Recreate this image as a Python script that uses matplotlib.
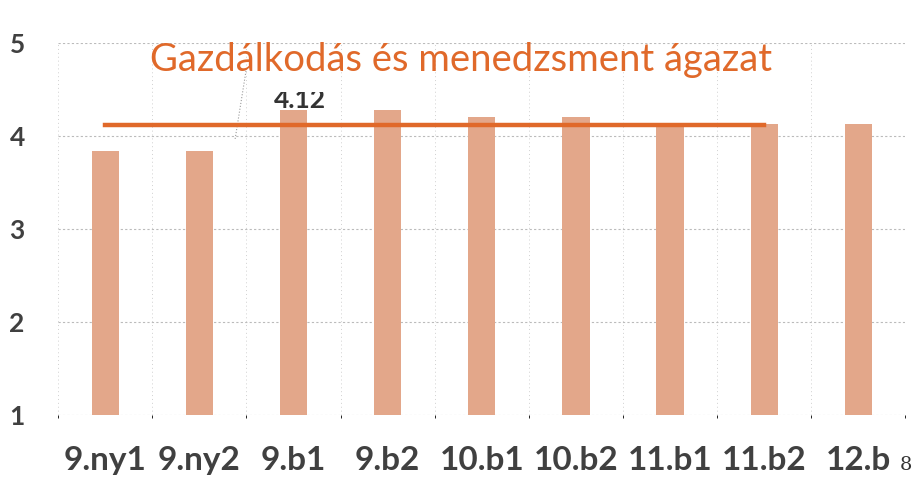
import matplotlib.pyplot as plt
from matplotlib.transforms import Bbox, TransformedBbox
import numpy as np

# osztályok és átlagok
classes = ["9.ny1", "9.ny2", "9.b1", "9.b2", "10.b1", "10.b2", "11.b1", "11.b2", "12.b"]
values = [3.84, 3.84, 4.28, 4.28, 4.21, 4.21, 4.13, 4.13, 4.13]
avg_value = 4.12
avg_label = "4.12"
title = "Gazdálkodás és menedzsment ágazat"

plt.rcParams['font.family'] = ['Lato', 'DejaVu Sans']

fig = plt.figure(figsize=(9.23, 4.9), dpi=100)
ax = fig.add_axes([0.063, 0.153, 0.918, 0.759])

x = np.arange(len(classes))
ax.bar(x, [v - 1 for v in values], bottom=1, width=0.29, color="#E3A78A", zorder=2)

# átlag vonal
ax.plot([x[0], x[7]], [avg_value, avg_value], color="#E0692A", lw=3.2, zorder=3)
t = ax.text(2.07, 4.30, avg_label, fontsize=19, fontweight="bold", color="#333333",
            ha="center", va="baseline", zorder=4)
# a címke teteje le van vágva, mint az eredetin
t.set_clip_box(TransformedBbox(Bbox([[1.5, 3.0], [2.7, 4.47]]), ax.transData))
t.set_clip_on(True)
ax.plot([1.38, 1.5], [3.97, 4.73], color="#9a9a9a", lw=0.8, ls=":", zorder=1)

ax.set_xlim(-0.5, 8.5)
ax.set_ylim(1, 5)
ax.set_yticks([1, 2, 3, 4, 5])
ax.set_xticks(x)
ax.set_xticklabels(classes)
ax.tick_params(axis="x", length=0, pad=22, labelsize=24, labelcolor="#404040")
ax.tick_params(axis="y", length=0, pad=24, labelsize=19, labelcolor="#404040")
for lab in ax.get_xticklabels() + ax.get_yticklabels():
    lab.set_fontweight("bold")

ax.set_xticks(np.arange(-0.5, 9, 1), minor=True)
ax.grid(axis="y", color="#bbbbbb", ls=(0, (2, 2)), lw=0.8, zorder=0)
ax.grid(axis="x", which="minor", color="#d0d0d0", ls=(0, (1, 3)), lw=0.7, zorder=0)
ax.grid(axis="x", which="major", visible=False)
for s in ax.spines.values():
    s.set_visible(False)

fig.text(0.5, 0.878, title, fontsize=27.5, color="#E0692A", ha="center", va="center")
fig.text(0.988, 0.04, "8", fontsize=14, family="DejaVu Serif", color="#333333", ha="right")

fig.savefig("out.png", dpi=100)
